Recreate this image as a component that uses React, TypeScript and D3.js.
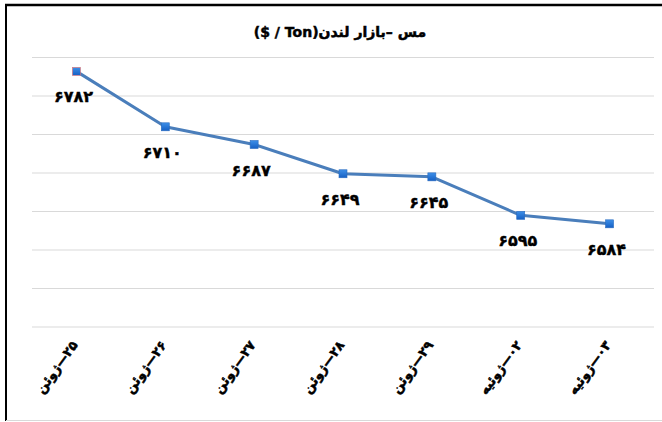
import React from "react";
import * as d3 from "d3";

// عنوان و داده‌ها
const title = "مس –بازار لندن(Ton / $)";
const categories = ["۲۵—ژوئن", "۲۶—ژوئن", "۲۷—ژوئن", "۲۸—ژوئن", "۲۹—ژوئن", "۰۲—ژوئیه", "۰۳—ژوئیه"];
const prices = [6782, 6710, 6687, 6649, 6645, 6595, 6584];
const yTicks = [6450, 6500, 6550, 6600, 6650, 6700, 6750, 6800];

const toFa = (n: number) => String(n).replace(/\d/g, (d) => "۰۱۲۳۴۵۶۷۸۹"[+d]);

export default function App() {
  const width = 662;
  const height = 422;
  const plot = { left: 32, right: 654, top: 57.5, bottom: 327 };

  const x = d3.scaleBand<string>().domain(categories).range([plot.left, plot.right]);
  const y = d3.scaleLinear().domain([6450, 6800]).range([plot.bottom, plot.top]);
  const cx = (c: string) => (x(c) ?? 0) + x.bandwidth() / 2;

  const line = d3
    .line<number>()
    .x((_, i) => cx(categories[i]))
    .y((d) => y(d));

  const font = "'DejaVu Sans', sans-serif";

  return (
    <svg
      width={width}
      height={height}
      style={{ position: "absolute", left: 0, top: 0, background: "#fff" }}
    >
      <defs>
        <linearGradient id="mk" x1="0" y1="0" x2="0" y2="1">
          <stop offset="0" stopColor="#3d8fe8" />
          <stop offset="1" stopColor="#1660c4" />
        </linearGradient>
      </defs>

      {/* frame */}
      <line x1={5} x2={width} y1={5} y2={5} stroke="#000" strokeWidth={2.5} />
      <line x1={6} x2={6} y1={4} y2={421} stroke="#000" strokeWidth={2} />
      <line x1={6} x2={width} y1={420.5} y2={420.5} stroke="#d9d9d9" strokeWidth={1} />

      {/* title */}
      <text
        x={340}
        y={37}
        direction="rtl"
        textAnchor="middle"
        fontFamily={font}
        fontWeight="bold"
        fontSize={14}
        fill="#000"
        stroke="#000"
        strokeWidth={0.5}
      >
        {title}
      </text>

      {/* grid */}
      {yTicks.map((t) => (
        <line
          key={t}
          x1={plot.left}
          x2={plot.right}
          y1={y(t)}
          y2={y(t)}
          stroke="#d9d9d9"
          strokeWidth={1}
        />
      ))}

      {/* series */}
      <path d={line(prices) ?? ""} fill="none" stroke="#4a7ebb" strokeWidth={3} strokeLinejoin="round" />
      {prices.map((v, i) => (
        <rect
          key={i}
          x={cx(categories[i]) - 4}
          y={y(v) - 4}
          width={8}
          height={8}
          fill="url(#mk)"
          stroke={i === 0 ? "#e07070" : "#2a6cc0"}
          strokeWidth={0.6}
        />
      ))}

      {/* data labels */}
      {prices.map((v, i) => (
        <text
          key={i}
          x={cx(categories[i]) - 3}
          y={y(v) + 31}
          textAnchor="middle"
          fontFamily={font}
          fontWeight="bold"
          fontSize={16}
          letterSpacing={-0.5}
          fill="#000"
          stroke="#000"
          strokeWidth={0.4}
        >
          {toFa(v)}
        </text>
      ))}

      {/* x labels */}
      {categories.map((c) => (
        <text
          key={c}
          transform={`translate(${cx(c) + 2},${plot.bottom + 18}) rotate(-54)`}
          direction="rtl"
          textAnchor="start"
          fontFamily={font}
          fontWeight="bold"
          fontSize={13}
          fill="#000"
          stroke="#000"
          strokeWidth={0.5}
        >
          {c}
        </text>
      ))}
    </svg>
  );
}
